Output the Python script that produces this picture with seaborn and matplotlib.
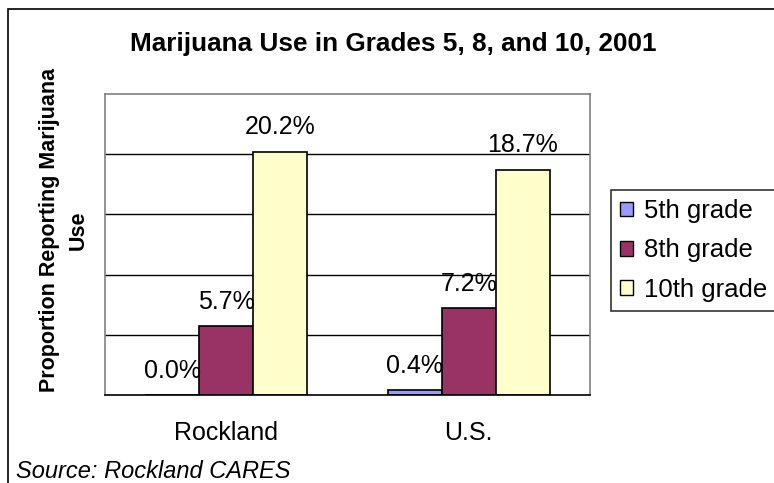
import matplotlib
matplotlib.use("Agg")
import matplotlib.pyplot as plt
from matplotlib.patches import Rectangle
import seaborn as sns
import pandas as pd

regions = ["Rockland", "U.S."]
grades = ["5th grade", "8th grade", "10th grade"]
grade5 = [0.000, 0.004]
grade8 = [0.057, 0.072]
grade10 = [0.202, 0.187]
colors = ["#9999FF", "#993366", "#FFFFCC"]

rows = []
for g, vals in zip(grades, [grade5, grade8, grade10]):
    for r, v in zip(regions, vals):
        rows.append({"region": r, "grade": g, "value": v})
df = pd.DataFrame(rows)

sns.set_style("white")
plt.rcParams["font.family"] = ["Liberation Sans", "DejaVu Sans"]
plt.rcParams["text.color"] = "black"
plt.rcParams["xtick.color"] = "black"
plt.rcParams["xtick.labelcolor"] = "black"

fig = plt.figure(figsize=(7.74, 4.83), dpi=100)
ax = fig.add_axes([105 / 774, 1 - 395 / 483, 485 / 774, 301 / 483])

sns.barplot(data=df, x="region", y="value", hue="grade", hue_order=grades,
            order=regions, palette=colors, saturation=1, edgecolor="black",
            linewidth=1.2, width=0.67, gap=0, ax=ax, legend=True, errorbar=None)

ax.set_ylim(0, 0.25)
ax.set_xlim(-0.5, 1.5)
ax.set_yticks([0.05, 0.10, 0.15, 0.20])
ax.set_yticklabels([])
ax.tick_params(axis="y", length=0)
ax.yaxis.grid(True, color="black", linewidth=1)
ax.set_axisbelow(True)
ax.set_xlabel("")
ax.set_ylabel("")
ax.set_xticks([0, 1])
ax.set_xticklabels(regions, fontsize=18, color="black")
ax.tick_params(axis="x", length=0, pad=19)
ax.set_xticks([-0.5, 0.5, 1.5], minor=True)
ax.tick_params(axis="x", which="minor", length=6, width=1, color="black", direction="out")

for side in ["left", "top", "right"]:
    ax.spines[side].set_color("#808080")
    ax.spines[side].set_linewidth(1.2)
ax.spines["bottom"].set_color("black")
ax.spines["bottom"].set_linewidth(1.2)

for cont, vals in zip(ax.containers, [grade5, grade8, grade10]):
    ax.bar_label(cont, labels=[f"{v*100:.1f}%" for v in vals], padding=9,
                 fontsize=18, color="black")

ax.get_legend().remove()
handles = [Rectangle((0, 0), 1, 1, facecolor=c, edgecolor="black", linewidth=1) for c in colors]
leg = fig.legend(handles, grades, loc="upper left", bbox_to_anchor=(611 / 774, 1 - 190 / 483),
                 fontsize=18.5, frameon=True, fancybox=False, edgecolor="black",
                 handlelength=0.5, handleheight=0.5, handletextpad=0.45,
                 borderpad=0.35, labelspacing=0.6, borderaxespad=0)
leg.get_frame().set_linewidth(1.2)
for t in leg.get_texts():
    t.set_color("black")

fig.text(393 / 774, 1 - 44 / 483, "Marijuana Use in Grades 5, 8, and 10, 2001",
         ha="center", va="center", fontsize=18.8, fontweight="bold")
fig.text(64 / 774, 1 - 230 / 483, "Proportion Reporting Marijuana\nUse",
         ha="center", va="center", rotation=90, fontsize=15.5, fontweight="bold",
         multialignment="center", linespacing=1.5)
fig.text(16 / 774, 1 - 478 / 483, "Source: Rockland CARES", ha="left", va="baseline",
         fontsize=17, fontstyle="italic")

fig.patches.append(Rectangle((8 / 774, -0.1), 1.2, 1 - 9 / 483 + 0.1,
                             transform=fig.transFigure, fill=False,
                             edgecolor="black", linewidth=1.2))

fig.savefig("out.png", dpi=100)
